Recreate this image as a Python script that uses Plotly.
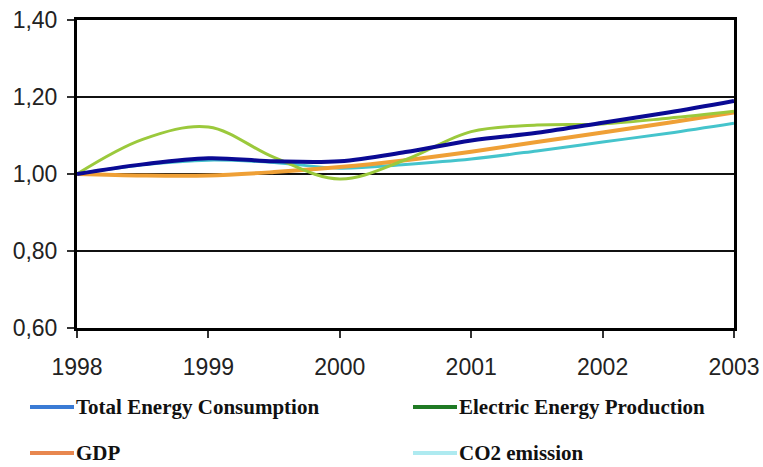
import plotly.graph_objects as go

# Index values (1998 = 1.00), sampled every half year
years = [1998, 1998.5, 1999, 1999.5, 2000, 2000.5, 2001, 2001.5, 2002, 2002.5, 2003]
total_energy = [1.000, 1.025, 1.041, 1.033, 1.033, 1.057, 1.087, 1.107, 1.133, 1.160, 1.190]
electric_prod = [1.000, 1.090, 1.122, 1.043, 0.987, 1.037, 1.110, 1.127, 1.130, 1.145, 1.163]
gdp = [1.000, 0.996, 0.996, 1.005, 1.018, 1.036, 1.058, 1.083, 1.108, 1.133, 1.160]
co2 = [1.000, 1.024, 1.036, 1.030, 1.015, 1.025, 1.039, 1.060, 1.083, 1.106, 1.132]

x_ticks = [1998, 1999, 2000, 2001, 2002, 2003]
y_ticks = [0.60, 0.80, 1.00, 1.20, 1.40]

series = [
    # name, values, line colour, width, legend colour
    ("CO2 emission", co2, "#45c4cc", 3, "#aeeaf0"),
    ("GDP", gdp, "#efa036", 4, "#e8874f"),
    ("Electric Energy Production", electric_prod, "#9bc93c", 3, "#1f7a24"),
    ("Total Energy Consumption", total_energy, "#0a0a94", 4, "#3a7bd5"),
]

fig = go.Figure()
for name, vals, col, w, _ in series:
    fig.add_trace(go.Scatter(
        x=years, y=vals, name=name, mode="lines",
        line=dict(color=col, width=w, shape="spline", smoothing=1.0),
        showlegend=False,
    ))

# Plot area in pixels: x 77..734, y 20..328
L, R, T, B = 77, 734, 20, 328
W, H = 763, 467


def px(xp):
    return (xp - L) / (R - L)


def py(yp):
    return (B - yp) / (B - T)


legend_items = [
    ("Total Energy Consumption", 30, 407),
    ("Electric Energy Production", 413, 407),
    ("GDP", 30, 453),
    ("CO2 emission", 413, 453),
]
legend_colors = {name: lc for name, _, _, _, lc in series}
for name, x0, y0 in legend_items:
    fig.add_shape(type="line", xref="paper", yref="paper",
                  x0=px(x0), x1=px(x0 + 44), y0=py(y0), y1=py(y0),
                  line=dict(color=legend_colors[name], width=4))
    fig.add_annotation(xref="paper", yref="paper", x=px(x0 + 44), y=py(y0),
                       text="<b>%s</b>" % name, showarrow=False,
                       xanchor="left", yanchor="middle",
                       font=dict(family="Liberation Serif", size=21, color="#111"))

fig.update_layout(
    width=W, height=H,
    margin=dict(l=L, r=W - R, t=T, b=H - B),
    paper_bgcolor="white", plot_bgcolor="white",
    separators=",.",
    font=dict(family="Liberation Sans, Arial", color="#222"),
)
fig.update_xaxes(
    range=[1998, 2003], tickvals=x_ticks, ticktext=[str(v) for v in x_ticks],
    automargin=False,
    showgrid=False, zeroline=False,
    showline=True, linecolor="black", linewidth=3, mirror=True,
    ticks="outside", ticklen=7, tickwidth=1.5, tickcolor="#333",
    ticklabelstandoff=9,
    tickfont=dict(size=23, color="#222"),
)
fig.update_yaxes(
    range=[0.60, 1.40], tickvals=y_ticks, tickformat=".2f",
    automargin=False,
    showgrid=True, gridcolor="#111", gridwidth=1.5, zeroline=False,
    showline=True, linecolor="black", linewidth=3, mirror=True,
    ticks="outside", ticklen=7, tickwidth=1.5, tickcolor="#333",
    ticklabelstandoff=5,
    tickfont=dict(size=23, color="#222"),
)

fig.write_html("out.html")
